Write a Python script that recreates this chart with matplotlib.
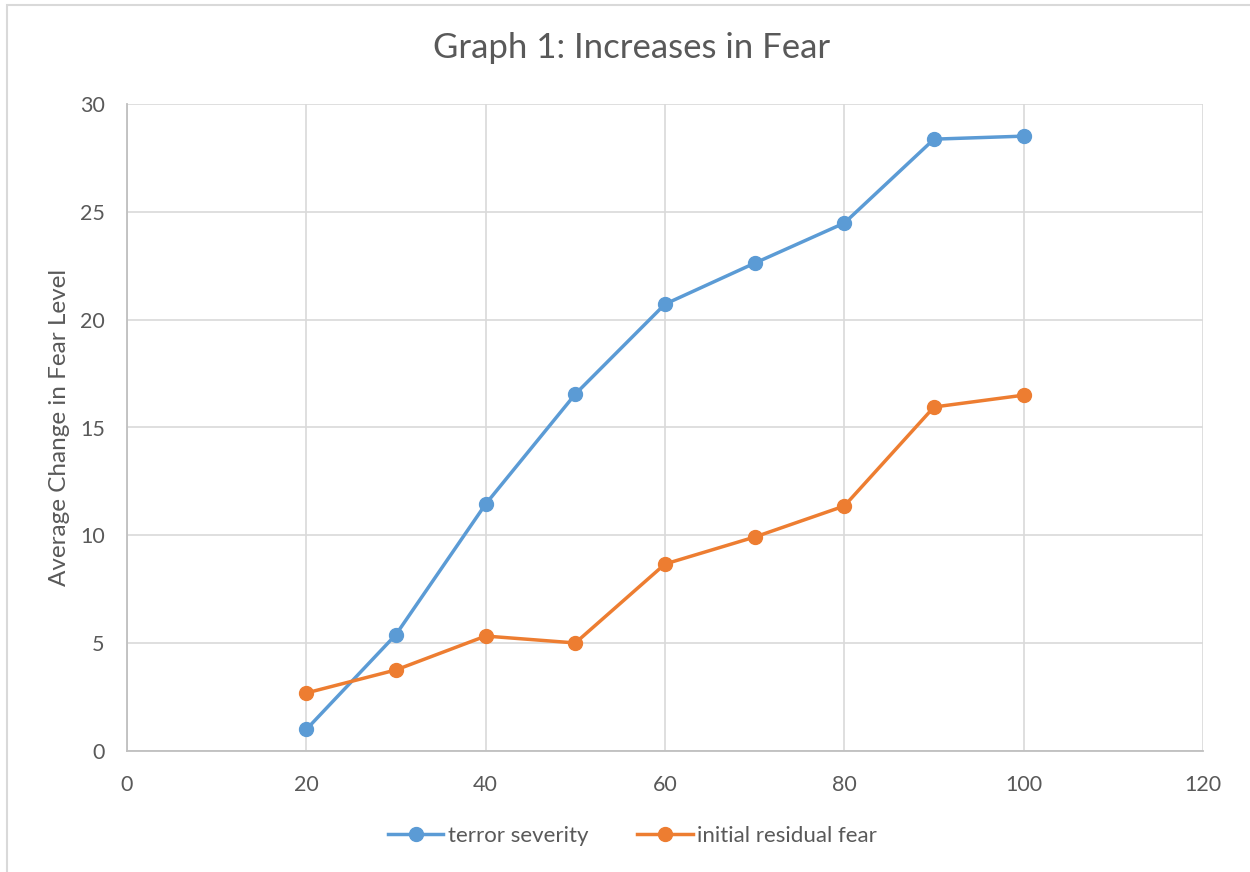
import matplotlib.pyplot as plt
from matplotlib.patches import Rectangle

plt.rcParams['font.family'] = ['Lato', 'DejaVu Sans']

# data
dose = [20, 30, 40, 50, 60, 70, 80, 90, 100]
terror_severity = [1.0, 5.4, 11.45, 16.55, 20.72, 22.62, 24.48, 28.37, 28.51]
initial_residual_fear = [2.69, 3.76, 5.33, 5.01, 8.67, 9.92, 11.36, 15.95, 16.5]

BLUE = '#5B9BD5'
ORANGE = '#ED7D31'
TXT = '#595959'

fig = plt.figure(figsize=(12.5, 8.72), dpi=100)
fig.patch.set_facecolor('white')

# chart-area frame
fig.patches.append(Rectangle((7 / 1250, -0.1), 1.2, 1 - 5 / 872 + 0.1,
                             transform=fig.transFigure, fill=False,
                             ec='#D9D9D9', lw=1.5, zorder=0))

ax = fig.add_axes([127 / 1250, 1 - 751 / 872, (1203 - 127) / 1250, (751 - 104) / 872])

ax.plot(dose, terror_severity, color=BLUE, lw=2.5, marker='o', ms=10,
        label='terror severity', zorder=3, clip_on=False)
ax.plot(dose, initial_residual_fear, color=ORANGE, lw=2.5, marker='o', ms=10,
        label='initial residual fear', zorder=3, clip_on=False)

ax.set_xlim(0, 120)
ax.set_ylim(0, 30)
ax.set_xticks(range(0, 121, 20))
ax.set_yticks(range(0, 31, 5))
ax.grid(True, color='#D9D9D9', lw=1.2)
ax.set_axisbelow(True)
ax.tick_params(length=0, labelsize=15.5, colors=TXT)
ax.tick_params(axis='x', pad=17)
ax.tick_params(axis='y', pad=16)
for side in ('top', 'right'):
    ax.spines[side].set_visible(False)
for side in ('left', 'bottom'):
    ax.spines[side].set_color('#BFBFBF')
    ax.spines[side].set_linewidth(1.3)

ax.set_ylabel('Average Change in Fear Level', fontsize=17.5, color=TXT, labelpad=7)

fig.text(0.505, 0.945, 'Graph 1: Increases in Fear', ha='center', va='center',
         fontsize=25, color=TXT)

fig.legend(loc='center', bbox_to_anchor=(0.506, 1 - 836 / 872), ncol=2,
           frameon=False, fontsize=16, labelcolor=TXT, handlelength=2.5,
           handletextpad=0.2, columnspacing=2.2)

fig.savefig('out.png', dpi=100, facecolor='white')
